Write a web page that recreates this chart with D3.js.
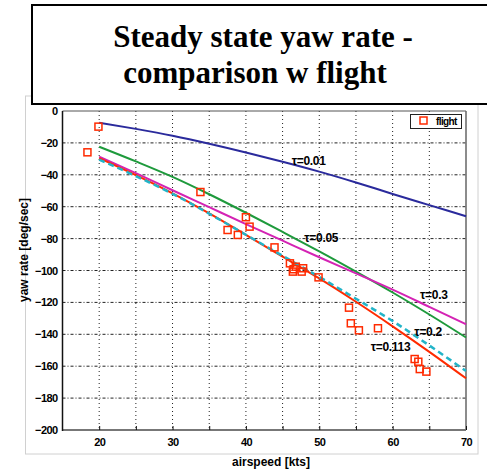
<!DOCTYPE html>
<html>
<head>
<meta charset="utf-8">
<script src="https://cdn.jsdelivr.net/npm/d3@7"></script>
<style>
  body { margin: 0; background: #fff; }
  svg text { font-family: "Liberation Sans", Arial, sans-serif; }
</style>
</head>
<body>
<svg width="487" height="469"></svg>
<script>
// model curves, yaw rate [deg/sec] vs airspeed [kts]
var speeds = [20, 25, 30, 35, 40, 45, 50, 55, 60, 65, 70];
var tau001 = [-7.3, -11.2, -15.5, -20.5, -26, -31.8, -38, -44.8, -52, -59, -66];
var tau005 = [-22.4, -31.6, -41.3, -52.2, -63.8, -75.8, -88, -100.7, -113.8, -127.6, -142];
var tau03  = [-28.6, -39, -49.7, -60.3, -70.9, -81.3, -91.7, -101.8, -112, -122.8, -133.7];
var tau0113 = [-29.5, -40.2, -51.6, -64.2, -77.6, -91.3, -105, -119.6, -135, -151, -167.6];
var tau02  = [-30.5, -40.8, -51.9, -64.4, -77.6, -90.8, -104, -117.7, -131.7, -147, -163];

// flight test points
var flightX = [18.4, 19.9, 33.8, 40.0, 40.5, 37.5, 38.9, 43.9, 46.0, 46.5, 46.8, 46.4, 47.6, 47.8, 49.9,
               54.05, 54.3, 55.4, 58.0, 63.0, 63.5, 63.7, 64.6];
var flightY = [-25.9, -9.8, -50.8, -66.6, -72.5, -74.6, -77.7, -85.5, -95.5, -99.2, -97.6, -100.7, -100.7, -98.6, -104.3,
               -123.3, -133.1, -137.5, -136.2, -155.5, -157.2, -161.8, -163.4];

var xTicks = [20, 30, 40, 50, 60, 70];
var yTicks = [0, -20, -40, -60, -80, -100, -120, -140, -160, -180, -200];

var series = [
  {name: "τ=0.01",  vals: tau001,  color: "#2a2a9c", dash: null, lx: 46.24, ly: -31.2},
  {name: "τ=0.05",  vals: tau005,  color: "#1e9a3c", dash: null, lx: 47.96, ly: -79.2},
  {name: "τ=0.3",   vals: tau03,   color: "#d423b4", dash: null, lx: 63.73, ly: -115.4},
  {name: "τ=0.113", vals: tau0113, color: "#ff2a00", dash: null, lx: 57.0,  ly: -147.8},
  {name: "τ=0.2",   vals: tau02,   color: "#22b4c8", dash: "6,4", lx: 62.96, ly: -138.4}
];

var svg = d3.select("svg");

var pLeft = 62.5, pRight = 466, pTop = 111, pBottom = 430;

var x = d3.scaleLinear().domain([15, 70]).range([pLeft, pRight]);
var y = d3.scaleLinear().domain([-200, 0]).range([pBottom, pTop]);

// light figure border
svg.append("rect")
    .attr("x", 25.5).attr("y", 96).attr("width", 452.5).attr("height", 358)
    .attr("fill", "none").attr("stroke", "#d0d0d0").attr("stroke-width", 1);

// grid
var grid = svg.append("g");
grid.selectAll("line.h")
    .data(yTicks.slice(1, -1))
  .enter().append("line")
    .attr("x1", pLeft).attr("x2", pRight)
    .attr("y1", function(d) { return y(d); })
    .attr("y2", function(d) { return y(d); })
    .attr("stroke", "#222").attr("stroke-width", 1)
    .attr("stroke-dasharray", "3,2,1,2");

grid.selectAll("line.v")
    .data(d3.range(20, 70, 5))
  .enter().append("line")
    .attr("y1", pTop).attr("y2", pBottom)
    .attr("x1", function(d) { return x(d); })
    .attr("x2", function(d) { return x(d); })
    .attr("stroke", "#222").attr("stroke-width", 1)
    .attr("stroke-dasharray", "1,3");

// frame
svg.append("line").attr("x1", pLeft).attr("x2", pRight).attr("y1", pTop).attr("y2", pTop)
    .attr("stroke", "#555").attr("stroke-width", 1);
svg.append("line").attr("x1", pRight).attr("x2", pRight).attr("y1", pTop).attr("y2", pBottom)
    .attr("stroke", "#666").attr("stroke-width", 1.5);
svg.append("line").attr("x1", pLeft).attr("x2", pRight).attr("y1", pBottom).attr("y2", pBottom)
    .attr("stroke", "#777").attr("stroke-width", 2);
svg.append("line").attr("x1", pLeft).attr("x2", pLeft).attr("y1", pTop).attr("y2", pBottom + 1)
    .attr("stroke", "#111").attr("stroke-width", 1.5);

// x ticks
var xAxis = d3.axisBottom(x).tickValues(d3.range(20, 75, 5)).tickSizeInner(-4).tickSizeOuter(0)
    .tickFormat(function(d) { return xTicks.indexOf(d) >= 0 ? d : ""; }).tickPadding(8);
var gx = svg.append("g").attr("transform", "translate(0," + pBottom + ")").call(xAxis);
gx.select(".domain").remove();
gx.selectAll("line").attr("stroke", "#111");
gx.selectAll("text").attr("font-size", 11).attr("font-weight", "bold")
    .attr("letter-spacing", "-0.6").attr("fill", "#000");

// y ticks
var yAxis = d3.axisLeft(y).tickValues(yTicks).tickSize(0).tickPadding(5);
var gy = svg.append("g").attr("transform", "translate(" + pLeft + ",0)").call(yAxis);
gy.select(".domain").remove();
gy.selectAll("text").attr("font-size", 11).attr("font-weight", "bold")
    .attr("letter-spacing", "-0.6").attr("fill", "#000");

// curves
var line = d3.line()
    .x(function(d, i) { return x(speeds[i]); })
    .y(function(d) { return y(d); })
    .curve(d3.curveMonotoneX);

series.forEach(function(s) {
  svg.append("path")
      .attr("d", line(s.vals))
      .attr("fill", "none")
      .attr("stroke", s.color)
      .attr("stroke-width", s.dash ? 2.5 : 2)
      .attr("stroke-dasharray", s.dash);
  svg.append("text")
      .attr("x", x(s.lx)).attr("y", y(s.ly)).attr("dy", "0.35em")
      .attr("font-size", 12).attr("font-weight", "bold").attr("letter-spacing", "-0.3")
      .text(s.name);
});

// flight points
svg.append("g").selectAll("rect")
    .data(flightX)
  .enter().append("rect")
    .attr("x", function(d) { return x(d) - 3.5; })
    .attr("y", function(d, i) { return y(flightY[i]) - 3.5; })
    .attr("width", 7).attr("height", 7)
    .attr("fill", "none").attr("stroke", "#ff2a00").attr("stroke-width", 1.5);

// legend
var lg = svg.append("g");
lg.append("rect").attr("x", 410.5).attr("y", 114.5).attr("width", 51).attr("height", 14)
    .attr("fill", "#fff").attr("stroke", "#222").attr("stroke-width", 1);
lg.append("rect").attr("x", 420).attr("y", 117).attr("width", 7).attr("height", 7)
    .attr("fill", "none").attr("stroke", "#ff2a00").attr("stroke-width", 1.5);
lg.append("text").attr("x", 436).attr("y", 125).attr("font-size", 10).attr("font-weight", "bold")
    .attr("letter-spacing", "-0.6").text("flight");

// axis labels
svg.append("text")
    .attr("x", 271).attr("y", 466)
    .attr("text-anchor", "middle").attr("font-size", 12).attr("font-weight", "bold")
    .text("airspeed [kts]");
svg.append("text")
    .attr("transform", "translate(28,250) rotate(-90)")
    .attr("text-anchor", "middle").attr("font-size", 12).attr("font-weight", "bold")
    .text("yaw rate [deg/sec]");

// title box
svg.append("rect")
    .attr("x", 32).attr("y", 5).attr("width", 460).attr("height", 99)
    .attr("fill", "#fff").attr("stroke", "#000").attr("stroke-width", 2);
var title = svg.append("text")
    .attr("text-anchor", "middle")
    .attr("font-size", 31).attr("font-weight", "bold")
    .style("font-family", "'Liberation Serif', 'Times New Roman', serif");
title.append("tspan").attr("x", 263).attr("y", 47).text("Steady state yaw rate -");
title.append("tspan").attr("x", 255).attr("y", 83).text("comparison w flight");
</script>
</body>
</html>
